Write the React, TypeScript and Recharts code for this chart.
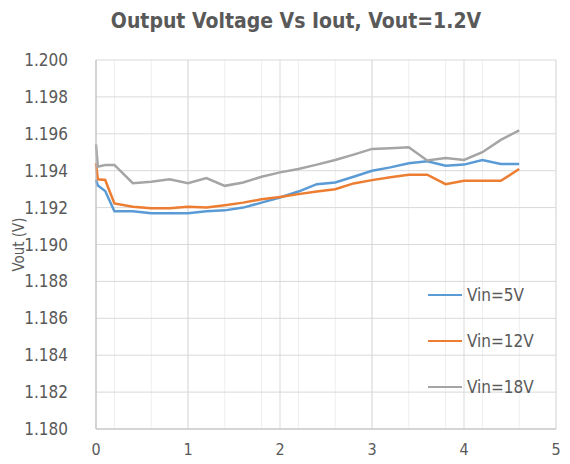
import React from "react"
import { LineChart, Line, XAxis, YAxis, CartesianGrid } from "recharts"

const iout = [0, 0.02, 0.1, 0.2, 0.4, 0.6, 0.8, 1.0, 1.2, 1.4, 1.6, 1.8, 2.0, 2.2, 2.4, 2.6, 2.8, 3.0, 3.2, 3.4, 3.6, 3.8, 4.0, 4.2, 4.4, 4.6]

const vin5 = [1.1935, 1.1932, 1.1929, 1.1918, 1.1918, 1.1917, 1.1917, 1.1917, 1.1918, 1.19185, 1.192, 1.19227, 1.19255, 1.19287, 1.19327, 1.19336, 1.19367, 1.194, 1.19418, 1.1944, 1.19451, 1.19427, 1.19433, 1.19458, 1.19436, 1.19436]
const vin12 = [1.1944, 1.19353, 1.1935, 1.19223, 1.19205, 1.19196, 1.19196, 1.19205, 1.192, 1.19213, 1.19227, 1.19245, 1.19258, 1.19273, 1.19287, 1.193, 1.19331, 1.19349, 1.19364, 1.19378, 1.19378, 1.19327, 1.19345, 1.19345, 1.19345, 1.19409]
const vin18 = [1.19543, 1.19422, 1.19431, 1.19431, 1.19332, 1.1934, 1.19353, 1.19332, 1.1936, 1.19318, 1.19336, 1.19367, 1.19391, 1.19409, 1.19433, 1.19458, 1.19487, 1.19518, 1.19522, 1.19527, 1.19455, 1.19469, 1.19458, 1.195, 1.19567, 1.19618]

const xTicks = [0, 1, 2, 3, 4, 5]
const xMinorTicks = [0, 0.2, 0.4, 0.6, 0.8, 1, 1.2, 1.4, 1.6, 1.8, 2, 2.2, 2.4, 2.6, 2.8, 3, 3.2, 3.4, 3.6, 3.8, 4, 4.2, 4.4, 4.6, 4.8, 5]
const yTicks = [1.18, 1.182, 1.184, 1.186, 1.188, 1.19, 1.192, 1.194, 1.196, 1.198, 1.2]

const seriesInfo = [
  { key: "v5", name: "Vin=5V", color: "#5B9BD5" },
  { key: "v12", name: "Vin=12V", color: "#ED7D31" },
  { key: "v18", name: "Vin=18V", color: "#A5A5A5" },
]

const data = iout.map((x, i) => ({ x, v5: vin5[i], v12: vin12[i], v18: vin18[i] }))

const font = "'DejaVu Sans Condensed', 'Liberation Sans Narrow', sans-serif"
const textColor = "#595959"

export default function App() {
  return (
    <div style={{ position: "absolute", left: 0, top: 0, width: 570, height: 464, background: "#fff", overflow: "hidden" }}>
      <div
        style={{
          position: "absolute",
          left: 0,
          top: 9,
          width: 592,
          textAlign: "center",
          fontFamily: font,
          fontWeight: "bold",
          fontSize: 21,
          color: textColor,
        }}
      >
        Output Voltage Vs Iout, Vout=1.2V
      </div>
      <LineChart width={570} height={464} data={data} margin={{ top: 60, right: 14, bottom: 5, left: 0 }}>
        <CartesianGrid xAxisId="minor" horizontal={false} stroke="#eeeeee" strokeWidth={1} />
        <CartesianGrid stroke="#d9d9d9" strokeWidth={1} />
        <XAxis xAxisId="minor" dataKey="x" type="number" domain={[0, 5]} ticks={xMinorTicks} hide />
        <XAxis
          dataKey="x"
          type="number"
          domain={[0, 5]}
          ticks={xTicks}
          interval={0}
          height={30}
          axisLine={{ stroke: "#bfbfbf" }}
          tickLine={false}
          tickMargin={9}
          tick={{ fill: textColor, fontFamily: font, fontSize: 16 }}
        />
        <YAxis
          type="number"
          domain={[1.18, 1.2]}
          ticks={yTicks}
          interval={0}
          width={96}
          axisLine={{ stroke: "#bfbfbf" }}
          tickLine={false}
          tickMargin={22}
          tickFormatter={(v: number) => v.toFixed(3)}
          tick={{ fill: textColor, fontFamily: font, fontSize: 17 }}
          label={{ value: "Vout (V)", angle: -90, position: "insideLeft", dx: 14, style: { fill: textColor, fontFamily: font, fontSize: 15, textAnchor: "middle" } }}
        />
        {seriesInfo.map((s) => (
          <Line
            key={s.key}
            dataKey={s.key}
            name={s.name}
            stroke={s.color}
            strokeWidth={2.5}
            dot={false}
            type="linear"
            isAnimationActive={false}
          />
        ))}
      </LineChart>
      <div style={{ position: "absolute", left: 428, top: 272, fontFamily: font, fontSize: 17, color: textColor }}>
        {seriesInfo.map((s) => (
          <div key={s.key} style={{ display: "flex", alignItems: "center", height: 46 }}>
            <span style={{ display: "inline-block", width: 34, height: 2.5, background: s.color, marginRight: 5 }} />
            <span>{s.name}</span>
          </div>
        ))}
      </div>
    </div>
  )
}
